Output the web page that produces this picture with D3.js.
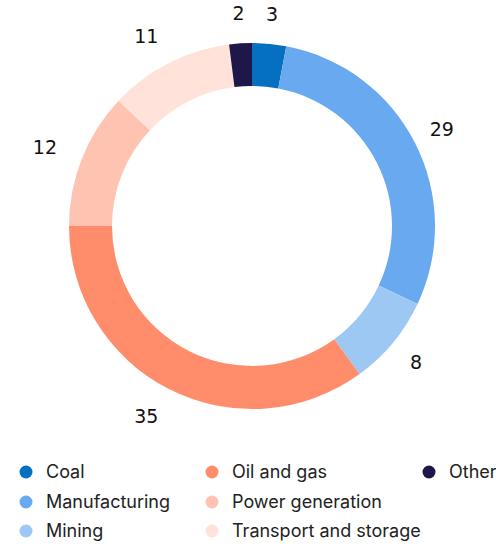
<!DOCTYPE html>
<html>
<head>
<meta charset="utf-8">
<script src="https://cdn.jsdelivr.net/npm/d3@7"></script>
<style>
  html, body { margin: 0; padding: 0; background: #fff; }
  svg { display: block; font-family: Inter, "Noto Sans", sans-serif; }
</style>
</head>
<body>
<div class="chart"></div>
<script>
const sectors = ["Coal", "Manufacturing", "Mining", "Oil and gas", "Power generation", "Transport and storage", "Other"];
const shares = [3, 29, 8, 35, 12, 11, 2];
const colours = ["#0670c0", "#68a9ef", "#9ec8f4", "#ff8d6b", "#ffc3b1", "#ffe2da", "#1e174a"];

// legend is laid out in columns, top to bottom
const legendCols = [["Coal", "Manufacturing", "Mining"], ["Oil and gas", "Power generation", "Transport and storage"], ["Other"]];

const width = 496, height = 544;
const cx = 252, cy = 226;
const outerR = 183, innerR = 140, labelR = 213;

const data = sectors.map((s, i) => ({ name: s, value: shares[i] }));
const color = d3.scaleOrdinal().domain(sectors).range(colours);

const svg = d3.select(".chart")
  .append("svg")
  .attr("width", width)
  .attr("height", height);

const pie = d3.pie().value(d => d.value).sort(null);
const arc = d3.arc().innerRadius(innerR).outerRadius(outerR);
const labelArc = d3.arc().innerRadius(labelR).outerRadius(labelR);

const g = svg.append("g").attr("transform", `translate(${cx},${cy})`);
const arcs = pie(data);

g.selectAll("path")
  .data(arcs)
  .enter()
  .append("path")
  .attr("d", arc)
  .attr("fill", d => color(d.data.name));

g.selectAll("text")
  .data(arcs)
  .enter()
  .append("text")
  .attr("transform", d => {
    const [x, y] = labelArc.centroid(d);
    const mid = (d.startAngle + d.endAngle) / 2;
    // labels on the left side sit a little further out
    const shift = Math.sin(mid) < -0.3 ? -9 : 0;
    return `translate(${x + shift},${y})`;
  })
  .attr("text-anchor", "middle")
  .attr("dy", "0.36em")
  .style("font-family", "'DejaVu Sans', sans-serif")
  .style("font-size", "19px")
  .style("fill", "#111")
  .text(d => d.data.value);

const colX = [26, 212, 429];
const rowY = [472, 502, 531];

const legend = svg.append("g").attr("class", "legend");
legendCols.forEach((col, ci) => {
  col.forEach((name, ri) => {
    const item = legend.append("g")
      .attr("transform", `translate(${colX[ci]},${rowY[ri]})`);
    item.append("circle").attr("r", 6.5).attr("fill", color(name));
    item.append("text")
      .attr("x", 20)
      .attr("dy", "0.36em")
      .style("font-size", "18px")
      .style("fill", "#222")
      .text(name);
  });
});
</script>
</body>
</html>
